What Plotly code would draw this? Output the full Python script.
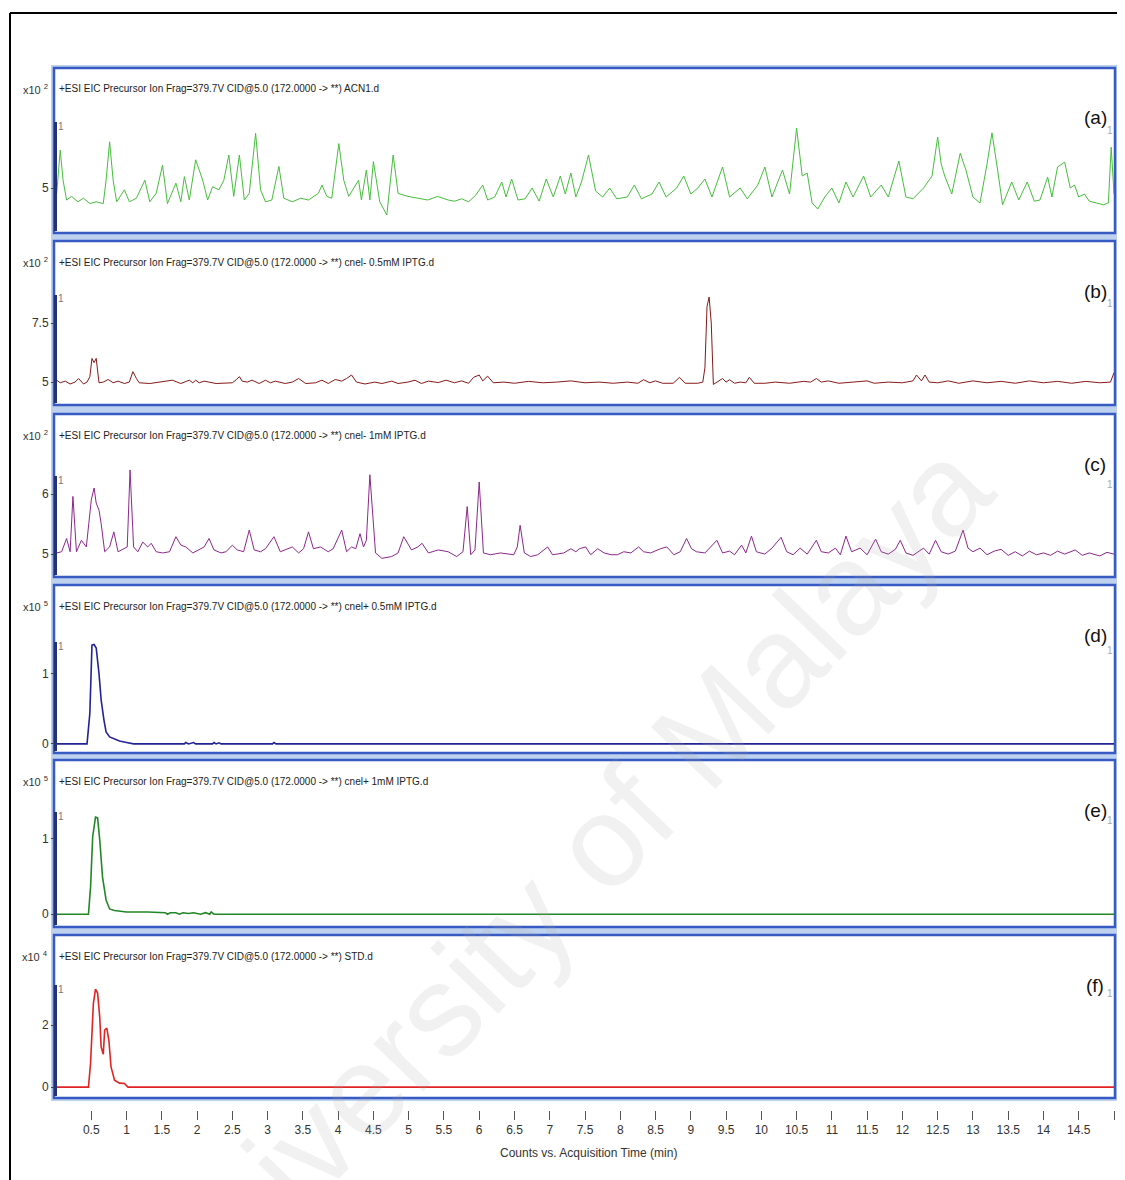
import plotly.graph_objects as go

# page is rendered with an 8px body margin, so the figure is sized/offset to fill the window
OFF = 8
W, H = 1117, 1172

# ---------------- data (time in min, counts in panel units) ----------------
t_a = [0.01, 0.06, 0.10, 0.15, 0.22, 0.31, 0.39, 0.48, 0.57, 0.67, 0.71, 0.76, 0.81, 0.86, 0.97, 1.04, 1.14,
       1.26, 1.33, 1.42, 1.51, 1.58, 1.70, 1.77, 1.82, 1.89, 1.98, 2.03, 2.08, 2.15, 2.22, 2.31, 2.38, 2.45,
       2.52, 2.60, 2.67, 2.74, 2.83, 2.90, 2.97, 3.06, 3.16, 3.23, 3.35, 3.47, 3.58, 3.72, 3.77, 3.84, 3.91,
       4.01, 4.08, 4.15, 4.29, 4.33, 4.40, 4.45, 4.50, 4.59, 4.69, 4.78, 4.85, 4.99, 5.13, 5.27, 5.41, 5.56,
       5.65, 5.75, 5.85, 5.95, 6.05, 6.12, 6.22, 6.32, 6.38, 6.46, 6.55, 6.65, 6.75, 6.85, 6.95, 7.05, 7.15,
       7.22, 7.30, 7.37, 7.45, 7.55, 7.65, 7.75, 7.85, 7.95, 8.10, 8.20, 8.30, 8.45, 8.55, 8.65, 8.80, 8.90,
       9.00, 9.10, 9.20, 9.30, 9.45, 9.55, 9.70, 9.80, 9.95, 10.05, 10.15, 10.30, 10.40, 10.50, 10.58, 10.65,
       10.72, 10.80, 10.90, 11.00, 11.10, 11.20, 11.30, 11.45, 11.55, 11.70, 11.80, 11.95, 12.05, 12.15, 12.30,
       12.42, 12.50, 12.55, 12.60, 12.70, 12.82, 12.90, 13.00, 13.10, 13.20, 13.27, 13.35, 13.42, 13.55, 13.65,
       13.77, 13.87, 13.95, 14.06, 14.12, 14.20, 14.30, 14.38, 14.44, 14.50, 14.58, 14.65, 14.75, 14.85, 14.92,
       14.96, 15.00]
v_a = [4.91, 5.63, 5.13, 4.80, 4.86, 4.77, 4.83, 4.74, 4.77, 4.74, 5.13, 5.77, 5.13, 4.77, 4.97, 4.77, 4.83,
       5.13, 4.77, 4.91, 5.38, 4.74, 5.08, 4.77, 5.19, 4.80, 5.47, 5.30, 5.13, 4.80, 5.02, 4.97, 5.13, 5.55,
       4.86, 5.55, 4.80, 4.91, 5.91, 4.97, 4.77, 4.80, 5.36, 4.83, 4.77, 4.83, 4.80, 4.91, 5.05, 4.86, 4.83,
       5.74, 5.13, 4.86, 5.13, 4.80, 5.30, 4.80, 5.44, 4.77, 4.55, 5.55, 4.91, 4.86, 4.83, 4.80, 4.86, 4.80,
       4.78, 4.82, 4.77, 4.88, 5.05, 4.80, 4.85, 5.10, 4.85, 5.15, 4.80, 4.82, 5.00, 4.78, 5.15, 4.85, 5.20,
       4.90, 5.25, 4.85, 5.10, 5.55, 4.95, 4.85, 5.00, 4.82, 4.85, 5.05, 4.82, 4.90, 5.10, 4.85, 5.00, 5.20,
       4.90, 5.00, 5.15, 4.85, 5.35, 4.85, 5.00, 4.82, 5.05, 5.35, 4.85, 5.30, 4.90, 6.00, 5.20, 5.25,
       4.75, 4.65, 4.85, 5.00, 4.75, 5.10, 4.85, 5.20, 4.85, 5.05, 4.85, 5.45, 4.85, 4.82, 5.00,
       5.20, 5.85, 5.40, 5.20, 4.90, 5.58, 5.30, 4.85, 4.75, 5.40, 5.92, 5.30, 4.72, 5.10, 4.80,
       5.10, 4.78, 4.80, 5.18, 4.85, 5.35, 5.43, 5.00, 5.05, 4.85, 4.90, 4.78, 4.75, 4.72, 4.75,
       5.68, 4.90]

t_b = [0.01, 0.06, 0.13, 0.20, 0.27, 0.32, 0.39, 0.44, 0.48, 0.51, 0.54, 0.57, 0.61, 0.67, 0.74, 0.81, 0.88,
       0.97, 1.04, 1.09, 1.14, 1.18, 1.33, 1.47, 1.65, 1.77, 1.89, 1.94, 1.98, 2.03, 2.10, 2.27, 2.50, 2.56,
       2.60, 2.64, 2.71, 2.78, 2.88, 2.97, 3.04, 3.11, 3.25, 3.35, 3.44, 3.54, 3.68, 3.77, 3.86, 3.96, 4.05,
       4.12, 4.19, 4.26, 4.38, 4.52, 4.62, 4.76, 4.85, 4.99, 5.09, 5.18, 5.28, 5.42, 5.53, 5.65, 5.75, 5.85,
       5.92, 6.00, 6.05, 6.12, 6.20, 6.35, 6.50, 6.70, 6.90, 7.10, 7.30, 7.50, 7.70, 7.90, 8.10, 8.25, 8.33,
       8.42, 8.50, 8.60, 8.75, 8.84, 8.92, 9.10, 9.17, 9.20, 9.23, 9.26, 9.29, 9.32, 9.38, 9.45, 9.50, 9.55,
       9.62, 9.70, 9.78, 9.83, 9.90, 10.05, 10.20, 10.40, 10.60, 10.70, 10.78, 10.85, 10.95, 11.10, 11.30,
       11.50, 11.60, 11.80, 12.00, 12.15, 12.20, 12.27, 12.32, 12.38, 12.50, 12.65, 12.80, 13.00, 13.20,
       13.40, 13.60, 13.80, 14.00, 14.20, 14.40, 14.60, 14.80, 14.95, 15.00]
v_b = [5.08, 4.97, 5.04, 4.92, 5.00, 5.15, 4.92, 5.00, 5.23, 6.00, 5.82, 6.00, 4.97, 5.00, 5.11, 4.97, 5.04,
       4.94, 5.00, 5.44, 5.15, 4.97, 4.94, 5.00, 5.08, 4.94, 5.08, 4.97, 5.08, 4.97, 5.04, 4.94, 4.97, 5.11,
       5.23, 5.04, 5.00, 5.08, 4.94, 5.08, 4.97, 5.04, 4.94, 5.00, 5.15, 4.94, 4.97, 5.08, 4.94, 5.11, 5.04,
       5.15, 5.30, 5.00, 4.92, 5.00, 4.94, 5.04, 4.94, 5.00, 5.08, 4.94, 5.04, 4.98, 5.08, 4.97, 5.05, 4.95,
       5.20, 5.30, 5.05, 5.25, 4.97, 5.00, 4.95, 5.03, 4.97, 5.00, 5.05, 4.97, 5.00, 4.95, 5.00, 4.95, 5.10,
       4.97, 5.05, 4.95, 4.95, 5.20, 4.95, 4.95, 5.00, 5.60, 8.20, 8.60, 7.50, 4.90, 5.00, 5.15, 5.00, 5.10,
       4.95, 5.00, 4.97, 5.20, 4.95, 4.95, 5.00, 4.95, 5.03, 5.00, 5.15, 5.00, 5.05, 4.95, 5.00,
       5.05, 4.95, 5.00, 4.97, 5.05, 5.30, 5.05, 5.30, 5.00, 4.97, 5.05, 4.95, 5.05, 4.97,
       5.03, 4.95, 5.05, 4.97, 5.03, 4.95, 5.03, 4.97, 5.00, 5.40]

t_c = [0.01, 0.08, 0.15, 0.20, 0.24, 0.29, 0.36, 0.43, 0.50, 0.54, 0.57, 0.61, 0.64, 0.69, 0.76, 0.82, 0.88,
       0.95, 1.01, 1.05, 1.10, 1.16, 1.23, 1.30, 1.35, 1.42, 1.51, 1.61, 1.70, 1.77, 1.84, 1.94, 2.03, 2.10,
       2.17, 2.24, 2.34, 2.41, 2.50, 2.57, 2.66, 2.74, 2.81, 2.90, 2.97, 3.09, 3.18, 3.30, 3.35, 3.44, 3.51,
       3.58, 3.65, 3.75, 3.86, 3.93, 4.05, 4.12, 4.19, 4.25, 4.31, 4.36, 4.40, 4.45, 4.50, 4.53, 4.62, 4.76,
       4.85, 4.93, 5.04, 5.13, 5.19, 5.28, 5.42, 5.56, 5.68, 5.77, 5.83, 5.88, 5.94, 6.00, 6.06, 6.16, 6.30,
       6.49, 6.54, 6.58, 6.64, 6.73, 6.83, 6.97, 7.04, 7.20, 7.30, 7.37, 7.42, 7.51, 7.58, 7.68, 7.77, 7.87,
       7.96, 8.05, 8.15, 8.26, 8.33, 8.43, 8.57, 8.66, 8.76, 8.85, 8.94, 9.01, 9.08, 9.20, 9.37, 9.45, 9.55,
       9.62, 9.72, 9.78, 9.86, 9.93, 10.05, 10.15, 10.28, 10.36, 10.45, 10.55, 10.65, 10.78, 10.85, 10.95,
       11.05, 11.12, 11.20, 11.28, 11.40, 11.50, 11.62, 11.70, 11.80, 11.90, 11.97, 12.05, 12.15, 12.30,
       12.38, 12.47, 12.55, 12.65, 12.75, 12.86, 12.93, 13.00, 13.10, 13.20, 13.30, 13.40, 13.50, 13.60,
       13.70, 13.80, 13.90, 14.00, 14.10, 14.20, 14.30, 14.45, 14.55, 14.65, 14.80, 14.90, 15.00]
v_c = [5.02, 5.04, 5.26, 5.04, 5.96, 5.04, 5.23, 5.12, 5.90, 6.10, 5.85, 5.73, 5.51, 5.04, 5.12, 5.37, 5.04,
       5.09, 5.12, 6.40, 5.12, 5.04, 5.20, 5.12, 5.18, 5.04, 5.02, 5.04, 5.29, 5.15, 5.12, 5.02, 5.07, 5.12,
       5.26, 5.07, 5.02, 5.04, 5.15, 5.07, 5.04, 5.40, 5.07, 5.04, 5.09, 5.29, 5.04, 5.09, 5.12, 5.02, 5.09,
       5.37, 5.09, 5.12, 5.04, 5.09, 5.40, 5.04, 5.12, 5.09, 5.34, 5.12, 5.23, 6.32, 5.45, 5.02, 4.93, 4.96,
       5.02, 5.29, 5.07, 5.12, 5.18, 5.02, 5.07, 5.04, 4.96, 5.04, 5.79, 4.99, 5.07, 6.20, 5.02, 4.99, 5.02,
       4.99, 5.12, 5.48, 5.02, 4.96, 4.99, 5.12, 4.99, 5.02, 5.09, 5.04, 5.09, 5.12, 4.99, 5.09, 5.02, 4.99,
       4.99, 5.04, 5.02, 5.12, 5.04, 5.02, 5.09, 5.12, 4.99, 5.04, 5.26, 5.09, 5.04, 5.02, 5.23, 5.02, 5.05,
       4.99, 5.15, 5.02, 5.30, 5.04, 5.00, 5.10, 5.28, 5.04, 4.99, 5.10, 5.00, 5.23, 5.04, 5.02,
       5.10, 4.99, 5.30, 5.04, 5.10, 4.99, 5.25, 5.04, 5.00, 5.08, 5.23, 5.02, 4.98, 5.10,
       5.00, 5.23, 5.04, 5.00, 5.05, 5.40, 5.10, 5.04, 5.10, 4.99, 5.05, 5.08, 4.98, 5.04,
       4.97, 5.05, 4.99, 5.02, 4.98, 5.05, 5.00, 5.07, 4.98, 5.02, 4.97, 5.03, 5.00]

t_d = [0.00, 0.44, 0.48, 0.51, 0.54, 0.57, 0.61, 0.64, 0.68, 0.71, 0.76, 0.83, 0.90, 1.00, 1.10, 1.82, 1.84,
       1.88, 1.95, 1.98, 2.22, 2.24, 2.27, 2.31, 2.34, 3.07, 3.09, 3.12, 15.00]
v_d = [0.00, 0.00, 0.44, 1.41, 1.42, 1.37, 1.00, 0.63, 0.34, 0.17, 0.10, 0.07, 0.04, 0.02, 0.00, 0.00, 0.02,
       0.00, 0.02, 0.00, 0.00, 0.02, 0.00, 0.015, 0.00, 0.00, 0.02, 0.00, 0.00]

t_e = [0.00, 0.46, 0.49, 0.52, 0.56, 0.59, 0.62, 0.66, 0.71, 0.76, 0.83, 0.90, 1.00, 1.30, 1.55, 1.58, 1.62,
       1.70, 1.75, 1.80, 1.88, 1.95, 2.05, 2.12, 2.18, 2.20, 2.24, 15.00]
v_e = [0.00, 0.00, 0.36, 1.03, 1.29, 1.28, 0.99, 0.49, 0.19, 0.07, 0.05, 0.04, 0.03, 0.03, 0.02, 0.00, 0.02,
       0.02, 0.00, 0.02, 0.01, 0.02, 0.00, 0.02, 0.00, 0.03, 0.00, 0.00]

t_f = [0.00, 0.46, 0.49, 0.53, 0.56, 0.59, 0.62, 0.64, 0.67, 0.69, 0.72, 0.75, 0.78, 0.83, 0.90, 0.97, 1.02,
       15.00]
v_f = [0.00, 0.00, 0.77, 2.70, 3.16, 3.03, 2.26, 1.29, 1.06, 1.84, 1.90, 1.50, 0.65, 0.22, 0.13, 0.12, 0.00,
       0.00]

panel_labels = ["(a)", "(b)", "(c)", "(d)", "(e)", "(f)"]
headers = [
    "+ESI EIC Precursor Ion Frag=379.7V CID@5.0 (172.0000 -> **) ACN1.d",
    "+ESI EIC Precursor Ion Frag=379.7V CID@5.0 (172.0000 -> **) cnel- 0.5mM IPTG.d",
    "+ESI EIC Precursor Ion Frag=379.7V CID@5.0 (172.0000 -> **) cnel- 1mM IPTG.d",
    "+ESI EIC Precursor Ion Frag=379.7V CID@5.0 (172.0000 -> **) cnel+ 0.5mM IPTG.d",
    "+ESI EIC Precursor Ion Frag=379.7V CID@5.0 (172.0000 -> **) cnel+ 1mM IPTG.d",
    "+ESI EIC Precursor Ion Frag=379.7V CID@5.0 (172.0000 -> **) STD.d",
]
exponents = ["2", "2", "2", "5", "5", "4"]
ytick_vals = [[5], [5, 7.5], [5, 6], [0, 1], [0, 1], [0, 2]]
ytick_text = [["5"], ["5", "7.5"], ["5", "6"], ["0", "1"], ["0", "1"], ["0", "2"]]
xtick_vals = [0.5, 1, 1.5, 2, 2.5, 3, 3.5, 4, 4.5, 5, 5.5, 6, 6.5, 7, 7.5, 8, 8.5, 9, 9.5, 10,
              10.5, 11, 11.5, 12, 12.5, 13, 13.5, 14, 14.5, 15]
xtick_text = ["0.5", "1", "1.5", "2", "2.5", "3", "3.5", "4", "4.5", "5", "5.5", "6", "6.5", "7", "7.5",
              "8", "8.5", "9", "9.5", "10", "10.5", "11", "11.5", "12", "12.5", "13", "13.5", "14", "14.5", ""]
x_title = "Counts vs. Acquisition Time (min)"
watermark = "University of Malaya"

series_t = [t_a, t_b, t_c, t_d, t_e, t_f]
series_v = [v_a, v_b, v_c, v_d, v_e, v_f]

# ---------------- styling / layout (page-pixel positions) ----------------
colors = ["rgb(70,190,60)", "rgb(135,25,25)", "rgb(140,40,140)", "rgb(35,35,150)",
          "rgb(35,135,40)", "rgb(225,35,35)"]
widths = [1.0, 1.0, 1.0, 1.6, 1.6, 1.6]
frames = [(68, 233), (241, 405), (414, 577), (585, 753), (760, 927), (935, 1098)]
yranges = [[4.25, 7.0], [4.03, 10.97], [4.62, 7.33], [-0.13, 2.27], [-0.17, 2.05], [-0.35, 4.90]]
axis_tops = [122, 295, 476, 642, 812, 985]
X0, X1 = 56, 1114
FR_L, FR_R = 54, 1115
FONT = "Liberation Sans Narrow, Arial Narrow, Liberation Sans, Arial, sans-serif"


def px(x):
    return (x - OFF) / W


def py(y):
    return 1 - (y - OFF) / H


fig = go.Figure()
layout = {}
shapes = []
annotations = []

# light-blue stripe behind the panel frames
shapes.append(dict(type="rect", xref="paper", yref="paper", x0=px(51), x1=px(1118), y0=py(1101), y1=py(65),
                   fillcolor="rgb(190,210,240)", line=dict(width=0), layer="below"))

for i in range(6):
    n = "" if i == 0 else str(i + 1)
    top, bot = frames[i]
    fig.add_trace(go.Scatter(x=series_t[i], y=series_v[i], mode="lines",
                             line=dict(color=colors[i], width=widths[i]),
                             xaxis="x" + n, yaxis="y" + n, showlegend=False, hoverinfo="skip"))
    layout["xaxis" + n] = dict(domain=[px(X0), px(X1)], range=[0, 15], anchor="y" + n,
                               showticklabels=False, showgrid=False, zeroline=False, showline=False,
                               ticks="")
    layout["yaxis" + n] = dict(domain=[py(bot), py(top)], range=yranges[i], anchor="x" + n,
                               tickvals=ytick_vals[i], ticktext=ytick_text[i], ticks="outside",
                               ticklen=4, tickwidth=1, tickcolor="#444", showgrid=False,
                               zeroline=False, showline=False,
                               tickfont=dict(family=FONT, size=12, color="#333"))
    shapes.append(dict(type="rect", xref="paper", yref="paper", x0=px(FR_L), x1=px(FR_R),
                       y0=py(bot), y1=py(top), fillcolor="white",
                       line=dict(color="rgb(55,90,195)", width=2.5), layer="below"))
    shapes.append(dict(type="line", xref="paper", yref="paper", x0=px(55.5), x1=px(55.5),
                       y0=py(bot - 2), y1=py(axis_tops[i]),
                       line=dict(color="rgb(35,50,120)", width=3), layer="above"))
    annotations.append(dict(xref="paper", yref="paper", x=px(50), y=py(top + 21), xanchor="right",
                            yanchor="middle", showarrow=False,
                            text="x10 <sup>" + exponents[i] + "</sup>",
                            font=dict(family=FONT, size=11, color="#333")))
    annotations.append(dict(xref="paper", yref="paper", x=px(57), y=py(top + 21), xanchor="left",
                            yanchor="middle", showarrow=False, text=headers[i],
                            font=dict(family=FONT, size=10, color="#222")))
    annotations.append(dict(xref="paper", yref="paper", x=px(1095), y=py(top + 50), xanchor="center",
                            yanchor="middle", showarrow=False, text=panel_labels[i],
                            font=dict(family=FONT, size=19, color="#111")))
    annotations.append(dict(xref="paper", yref="paper", x=px(61), y=py(axis_tops[i] + 4), xanchor="center",
                            yanchor="middle", showarrow=False, text="1",
                            font=dict(family=FONT, size=10, color="#777")))
    annotations.append(dict(xref="paper", yref="paper", x=px(1110), y=py(axis_tops[i] + 8),
                            xanchor="center", yanchor="middle", showarrow=False, text="1",
                            font=dict(family=FONT, size=10, color="#aaa")))

# separate x axis carrying the time ticks under the last panel
fig.add_trace(go.Scatter(x=[0, 15], y=[0, 0], mode="markers", marker=dict(opacity=0),
                         xaxis="x7", yaxis="y7", showlegend=False, hoverinfo="skip"))
layout["xaxis7"] = dict(domain=[px(X0), px(X1)], range=[0, 15], anchor="y7", tickvals=xtick_vals,
                        ticktext=xtick_text, ticks="outside", ticklen=9, tickwidth=1, tickcolor="#555",
                        showgrid=False, zeroline=False, showline=False,
                        tickfont=dict(family=FONT, size=12, color="#333"))
layout["yaxis7"] = dict(domain=[py(1110), py(1108)], range=[-1, 1], visible=False)

annotations.append(dict(xref="paper", yref="paper", x=px(588), y=py(1153), xanchor="center",
                        yanchor="middle", showarrow=False, text=x_title,
                        font=dict(family=FONT, size=12, color="#333")))
annotations.append(dict(xref="paper", yref="paper", x=px(560), y=py(885), xanchor="center",
                        yanchor="middle", showarrow=False, text=watermark, textangle=-46,
                        font=dict(family="Liberation Sans, Arial, sans-serif", size=130,
                                  color="rgba(170,170,170,0.16)")))

# outer black border (left and top)
shapes.append(dict(type="line", xref="paper", yref="paper", x0=px(10), x1=px(10), y0=py(1185), y1=py(13),
                   line=dict(color="black", width=2)))
shapes.append(dict(type="line", xref="paper", yref="paper", x0=px(10), x1=px(1130), y0=py(13), y1=py(13),
                   line=dict(color="black", width=2)))

fig.update_layout(width=W, height=H, margin=dict(l=0, r=0, t=0, b=0),
                  paper_bgcolor="white", plot_bgcolor="rgba(0,0,0,0)",
                  shapes=shapes, annotations=annotations, **layout)

fig.write_html("out.html")
